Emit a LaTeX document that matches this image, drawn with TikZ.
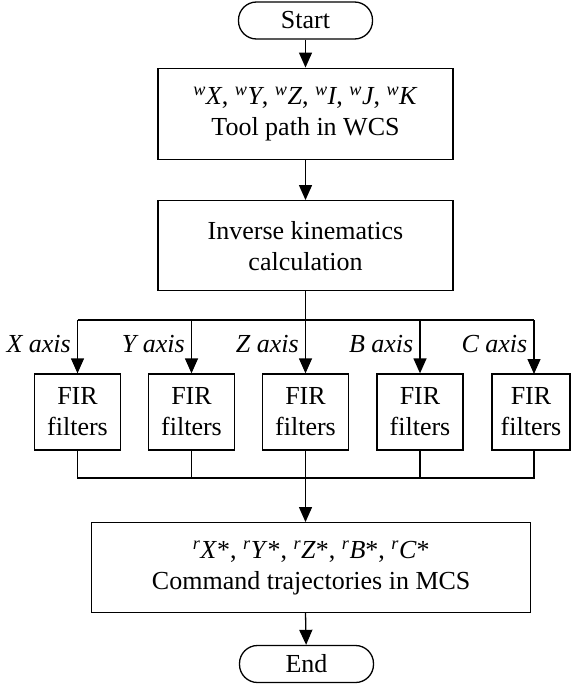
\documentclass[tikz,border=0pt]{standalone}
\usepackage{fontspec}
\setmainfont{Liberation Serif}
\usetikzlibrary{arrows.meta}
\begin{document}
\begin{tikzpicture}[x=1pt,y=-1pt,
  every node/.style={font=\fontsize{26}{31}\selectfont, inner sep=0pt},
  proc/.style={draw, line width=1.3pt, align=center},
  term/.style={draw, line width=1.3pt, rounded corners=18pt, minimum width=134pt, minimum height=37pt},
  fir/.style={draw, line width=1.3pt, align=center, minimum width=86pt, minimum height=76pt},
  conn/.style={line width=1.3pt},
  arr/.style={line width=1.3pt, -{Triangle[length=15pt,width=13pt]}},
  axlab/.style={anchor=base east, font=\fontsize{26}{30}\selectfont\itshape}
]
\useasboundingbox (0,0) rectangle (571,688);
\newcommand{\sw}[1]{\textsuperscript{\textit{#1}}}
\node[term] (start) at (305.5,20.5) {Start};
\node[proc, minimum width=295pt, minimum height=91pt] (b1) at (305.5,113.7)
  {\sw{w}\textit{X}, \sw{w}\textit{Y}, \sw{w}\textit{Z}, \sw{w}\textit{I}, \sw{w}\textit{J}, \sw{w}\textit{K}\\Tool path in WCS};
\node[proc, minimum width=295pt, minimum height=90pt] (b2) at (305.5,245.7)
  {Inverse kinematics\\calculation};
\node[fir] (f1) at (77.5,412) {FIR\\filters};
\node[fir] (f2) at (191.5,412) {FIR\\filters};
\node[fir] (f3) at (305.5,412) {FIR\\filters};
\node[fir] (f4) at (420,412) {FIR\\filters};
\node[fir, minimum width=78pt] (f5) at (531,412) {FIR\\filters};
\node[proc, minimum width=439pt, minimum height=90pt] (b3) at (311.2,567.7)
  {\sw{r}\textit{X}*, \sw{r}\textit{Y}*, \sw{r}\textit{Z}*, \sw{r}\textit{B}*, \sw{r}\textit{C}*\\Command trajectories in MCS};
\node[term] (end) at (306.5,664) {End};
% split and merge points
\coordinate (s1) at (77.5,320);
\coordinate (s2) at (191.5,320);
\coordinate (s3) at (305.5,320);
\coordinate (s4) at (420,320);
\coordinate (s5) at (534,320);
\coordinate (t5) at (534,374);
\coordinate (u5) at (534,450);
\coordinate (m1) at (77.5,478);
\coordinate (m2) at (191.5,478);
\coordinate (m3) at (305.5,478);
\coordinate (m4) at (420,478);
\coordinate (m5) at (534,478);
\coordinate (bo) at (305.5,612.7);
% axis labels
\node[axlab] (lx) at (71,352) {X axis};
\node[axlab] (ly) at (185,352) {Y axis};
\node[axlab] (lz) at (299,352) {Z axis};
\node[axlab] (lb) at (413.5,352) {B axis};
\node[axlab] (lc) at (527.5,352) {C axis};
% connectors
\draw[arr] (start) -- (b1);
\draw[arr] (b1) -- (b2);
\draw[conn] (b2.south) -- (s3);
\draw[conn] (s1) -- (s5);
\draw[arr] (s1) -- (f1.north);
\draw[arr] (s2) -- (f2.north);
\draw[arr] (s3) -- (f3.north);
\draw[arr] (s4) -- (f4.north);
\draw[arr] (s5) -- (t5);
\draw[conn] (f1.south) -- (m1) -- (m5) -- (u5);
\draw[conn] (f2.south) -- (m2);
\draw[conn] (f3.south) -- (m3);
\draw[conn] (f4.south) -- (m4);
\draw[arr] (m3) -- (m3 |- b3.north);
\draw[arr] (bo) -- (end);
\end{tikzpicture}
\end{document}
